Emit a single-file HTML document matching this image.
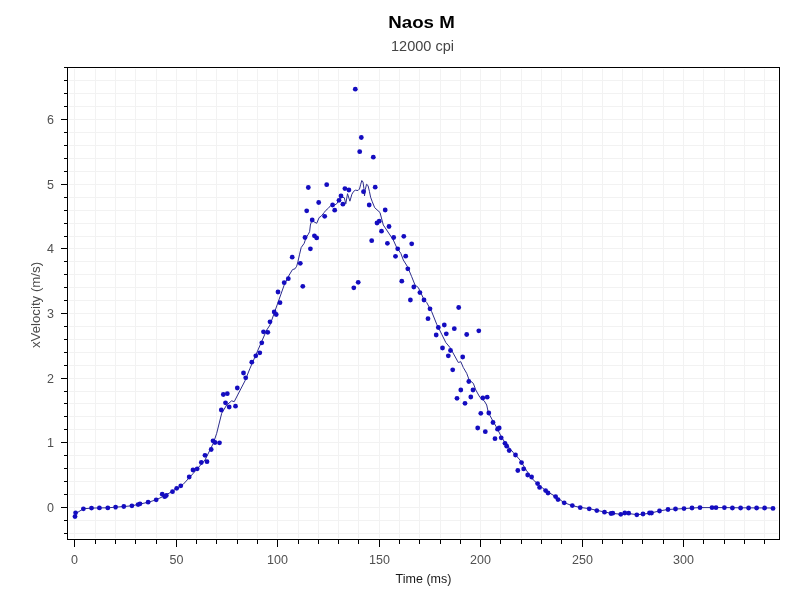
<!DOCTYPE html><html><head><meta charset="utf-8"><style>html,body{margin:0;padding:0;background:#fff;}body{width:800px;height:600px;overflow:hidden;position:relative;font-family:"Liberation Sans", sans-serif}</style></head><body>
<svg width="800" height="600" viewBox="0 0 800 600" style="position:absolute;left:0;top:0;will-change:transform">
<path d="M74.5 69V538M95.5 69V538M115.5 69V538M135.5 69V538M156.5 69V538M176.5 69V538M196.5 69V538M216.5 69V538M237.5 69V538M257.5 69V538M277.5 69V538M298.5 69V538M318.5 69V538M338.5 69V538M358.5 69V538M379.5 69V538M399.5 69V538M419.5 69V538M440.5 69V538M460.5 69V538M480.5 69V538M500.5 69V538M521.5 69V538M541.5 69V538M561.5 69V538M582.5 69V538M602.5 69V538M622.5 69V538M642.5 69V538M663.5 69V538M683.5 69V538M703.5 69V538M724.5 69V538M744.5 69V538M764.5 69V538M69 533.5H778M69 520.5H778M69 507.5H778M69 494.5H778M69 481.5H778M69 468.5H778M69 455.5H778M69 442.5H778M69 429.5H778M69 416.5H778M69 403.5H778M69 391.5H778M69 378.5H778M69 365.5H778M69 352.5H778M69 339.5H778M69 326.5H778M69 313.5H778M69 300.5H778M69 287.5H778M69 274.5H778M69 261.5H778M69 248.5H778M69 236.5H778M69 223.5H778M69 210.5H778M69 197.5H778M69 184.5H778M69 171.5H778M69 158.5H778M69 145.5H778M69 132.5H778M69 119.5H778M69 106.5H778M69 93.5H778M69 80.5H778" stroke="#f2f2f2" stroke-width="1" fill="none" shape-rendering="crispEdges"/>
<path d="M64 533.5H67M64 520.5H67M61 507.5H67M64 494.5H67M64 481.5H67M64 468.5H67M64 455.5H67M61 442.5H67M64 429.5H67M64 416.5H67M64 403.5H67M64 391.5H67M61 378.5H67M64 365.5H67M64 352.5H67M64 339.5H67M64 326.5H67M61 313.5H67M64 300.5H67M64 287.5H67M64 274.5H67M64 261.5H67M61 248.5H67M64 236.5H67M64 223.5H67M64 210.5H67M64 197.5H67M61 184.5H67M64 171.5H67M64 158.5H67M64 145.5H67M64 132.5H67M61 119.5H67M64 106.5H67M64 93.5H67M64 80.5H67M64 67.5H67M74.5 539V547M95.5 539V544M115.5 539V544M135.5 539V544M156.5 539V544M176.5 539V547M196.5 539V544M216.5 539V544M237.5 539V544M257.5 539V544M277.5 539V547M298.5 539V544M318.5 539V544M338.5 539V544M358.5 539V544M379.5 539V547M399.5 539V544M419.5 539V544M440.5 539V544M460.5 539V544M480.5 539V547M500.5 539V544M521.5 539V544M541.5 539V544M561.5 539V544M582.5 539V547M602.5 539V544M622.5 539V544M642.5 539V544M663.5 539V544M683.5 539V547M703.5 539V544M724.5 539V544M744.5 539V544M764.5 539V544" stroke="#000" stroke-width="1" fill="none" shape-rendering="crispEdges"/>
<rect x="67.5" y="67.5" width="712" height="472" stroke="#000" stroke-width="1" fill="none" shape-rendering="crispEdges"/>
<polyline points="75.0,514.0 83.4,508.8 91.5,508.1 99.4,507.9 107.8,507.8 115.6,507.2 123.8,506.5 131.9,505.8 140.0,504.0 148.1,502.3 156.2,499.8 164.0,496.0 171.7,491.7 183.3,484.2 193.3,473.3 205.0,460.0 213.3,443.3 216.7,433.3 221.7,413.3 226.7,405.0 231.7,400.8 234.2,401.7 245.0,380.8 250.0,368.3 266.7,330.0 270.0,325.0 284.2,285.0 289.2,275.0 292.5,269.6 295.0,268.8 296.7,266.2 297.9,261.7 299.6,254.2 301.2,247.5 304.2,243.3 305.8,238.3 308.3,234.2 309.6,231.7 310.4,225.0 311.7,220.8 313.8,221.7 316.7,223.3 319.2,217.5 321.2,216.2 324.2,212.5 325.8,210.4 328.3,208.3 330.8,205.4 334.2,205.4 336.7,203.8 339.2,200.0 341.4,196.6 344.3,197.8 345.8,203.9 347.5,193.7 349.9,201.2 351.9,194.2 353.7,191.3 355.4,190.2 358.0,190.5 359.5,189.0 360.7,184.3 361.8,180.5 363.0,182.0 363.9,188.4 364.5,196.0 365.3,189.6 366.5,184.3 368.0,185.5 369.4,191.3 370.6,197.2 372.3,201.8 374.7,207.7 380.0,212.5 383.3,225.0 390.0,235.0 393.3,240.0 396.7,247.5 400.8,253.3 403.3,260.0 407.5,266.7 411.7,276.7 415.0,285.0 418.3,287.5 424.2,300.0 426.7,302.5 431.7,311.7 436.7,324.2 441.7,334.2 445.8,342.5 450.0,347.5 454.2,355.0 458.3,362.5 460.8,361.7 463.3,367.5 466.7,373.3 469.2,380.0 473.3,383.3 475.8,390.0 480.0,397.5 484.2,400.8 486.7,405.0 488.3,412.5 493.3,421.7 496.7,427.5 501.7,437.5 506.7,445.0 513.3,452.5 520.0,460.0 526.7,470.8 533.3,480.0 537.6,483.6 545.6,490.6 555.6,496.6 564.0,502.6 572.0,505.6 580.0,507.4 589.0,508.6 597.0,510.4 604.6,512.0 612.0,513.4 621.0,514.2 628.6,513.6 637.0,514.6 643.0,514.2 651.0,513.0 659.5,510.9 668.0,509.5 675.8,509.0 684.0,508.6 692.0,508.0 700.0,507.6 716.0,507.6 724.4,507.6 740.0,507.8 773.0,508.0" stroke="#2c2c8c" stroke-width="1" fill="none" stroke-linejoin="round"/>
<g fill="#140cc0"><circle cx="75.0" cy="516.6" r="2.4"/><circle cx="75.6" cy="512.8" r="2.4"/><circle cx="83.4" cy="508.8" r="2.4"/><circle cx="91.5" cy="508.1" r="2.4"/><circle cx="99.4" cy="507.9" r="2.4"/><circle cx="107.8" cy="507.8" r="2.4"/><circle cx="115.6" cy="507.1" r="2.4"/><circle cx="123.8" cy="506.5" r="2.4"/><circle cx="131.9" cy="505.8" r="2.4"/><circle cx="138.1" cy="504.6" r="2.4"/><circle cx="140.0" cy="503.8" r="2.4"/><circle cx="148.1" cy="502.2" r="2.4"/><circle cx="156.2" cy="499.8" r="2.4"/><circle cx="162.2" cy="494.2" r="2.4"/><circle cx="164.7" cy="496.7" r="2.4"/><circle cx="166.3" cy="495.5" r="2.4"/><circle cx="172.5" cy="491.7" r="2.4"/><circle cx="176.7" cy="488.3" r="2.4"/><circle cx="180.8" cy="485.8" r="2.4"/><circle cx="189.2" cy="477.0" r="2.4"/><circle cx="193.0" cy="470.0" r="2.4"/><circle cx="197.2" cy="468.8" r="2.4"/><circle cx="201.3" cy="462.5" r="2.4"/><circle cx="205.0" cy="455.3" r="2.4"/><circle cx="207.0" cy="461.7" r="2.4"/><circle cx="211.2" cy="449.5" r="2.4"/><circle cx="213.0" cy="440.8" r="2.4"/><circle cx="215.0" cy="442.5" r="2.4"/><circle cx="219.5" cy="442.8" r="2.4"/><circle cx="221.3" cy="410.0" r="2.4"/><circle cx="225.5" cy="402.8" r="2.4"/><circle cx="229.2" cy="407.0" r="2.4"/><circle cx="235.5" cy="406.2" r="2.4"/><circle cx="223.3" cy="394.5" r="2.4"/><circle cx="227.3" cy="393.7" r="2.4"/><circle cx="237.3" cy="388.0" r="2.4"/><circle cx="243.5" cy="373.0" r="2.4"/><circle cx="245.7" cy="377.8" r="2.4"/><circle cx="251.8" cy="362.2" r="2.4"/><circle cx="255.8" cy="355.8" r="2.4"/><circle cx="259.8" cy="352.8" r="2.4"/><circle cx="261.8" cy="342.8" r="2.4"/><circle cx="263.5" cy="331.8" r="2.4"/><circle cx="267.8" cy="332.3" r="2.4"/><circle cx="270.0" cy="321.8" r="2.4"/><circle cx="274.2" cy="312.0" r="2.4"/><circle cx="276.2" cy="314.5" r="2.4"/><circle cx="280.0" cy="302.7" r="2.4"/><circle cx="278.0" cy="292.0" r="2.4"/><circle cx="284.2" cy="282.7" r="2.4"/><circle cx="288.3" cy="278.7" r="2.4"/><circle cx="302.8" cy="286.3" r="2.4"/><circle cx="292.2" cy="257.2" r="2.4"/><circle cx="300.3" cy="263.3" r="2.4"/><circle cx="310.4" cy="248.8" r="2.4"/><circle cx="305.0" cy="237.5" r="2.4"/><circle cx="314.4" cy="235.8" r="2.4"/><circle cx="316.7" cy="237.9" r="2.4"/><circle cx="306.7" cy="210.8" r="2.4"/><circle cx="312.2" cy="220.0" r="2.4"/><circle cx="308.3" cy="187.5" r="2.4"/><circle cx="318.7" cy="202.5" r="2.4"/><circle cx="324.7" cy="216.3" r="2.4"/><circle cx="326.7" cy="184.7" r="2.4"/><circle cx="332.6" cy="205.0" r="2.4"/><circle cx="334.7" cy="210.2" r="2.4"/><circle cx="339.0" cy="200.3" r="2.4"/><circle cx="341.0" cy="196.0" r="2.4"/><circle cx="342.9" cy="204.2" r="2.4"/><circle cx="344.9" cy="188.6" r="2.4"/><circle cx="348.9" cy="190.0" r="2.4"/><circle cx="355.3" cy="89.2" r="2.4"/><circle cx="361.3" cy="137.5" r="2.4"/><circle cx="359.7" cy="151.7" r="2.4"/><circle cx="373.3" cy="157.2" r="2.4"/><circle cx="363.5" cy="191.7" r="2.4"/><circle cx="375.2" cy="187.2" r="2.4"/><circle cx="369.2" cy="205.0" r="2.4"/><circle cx="385.2" cy="210.0" r="2.4"/><circle cx="377.0" cy="223.0" r="2.4"/><circle cx="379.2" cy="221.2" r="2.4"/><circle cx="381.5" cy="231.2" r="2.4"/><circle cx="389.0" cy="226.5" r="2.4"/><circle cx="371.7" cy="240.7" r="2.4"/><circle cx="387.4" cy="243.3" r="2.4"/><circle cx="353.8" cy="287.8" r="2.4"/><circle cx="358.2" cy="282.3" r="2.4"/><circle cx="393.7" cy="237.5" r="2.4"/><circle cx="403.8" cy="236.3" r="2.4"/><circle cx="411.7" cy="243.8" r="2.4"/><circle cx="397.7" cy="248.8" r="2.4"/><circle cx="395.5" cy="256.3" r="2.4"/><circle cx="405.7" cy="256.2" r="2.4"/><circle cx="407.8" cy="268.8" r="2.4"/><circle cx="401.8" cy="281.2" r="2.4"/><circle cx="413.8" cy="287.0" r="2.4"/><circle cx="419.9" cy="292.6" r="2.4"/><circle cx="410.4" cy="300.0" r="2.4"/><circle cx="424.0" cy="300.0" r="2.4"/><circle cx="430.0" cy="308.8" r="2.4"/><circle cx="458.7" cy="307.5" r="2.4"/><circle cx="428.0" cy="318.7" r="2.4"/><circle cx="438.3" cy="327.5" r="2.4"/><circle cx="444.3" cy="325.0" r="2.4"/><circle cx="454.3" cy="328.7" r="2.4"/><circle cx="478.8" cy="330.8" r="2.4"/><circle cx="436.2" cy="335.0" r="2.4"/><circle cx="446.3" cy="333.8" r="2.4"/><circle cx="466.7" cy="334.5" r="2.4"/><circle cx="442.5" cy="348.0" r="2.4"/><circle cx="450.5" cy="350.5" r="2.4"/><circle cx="448.3" cy="355.8" r="2.4"/><circle cx="462.7" cy="357.0" r="2.4"/><circle cx="452.7" cy="369.8" r="2.4"/><circle cx="468.8" cy="381.5" r="2.4"/><circle cx="460.8" cy="390.0" r="2.4"/><circle cx="473.0" cy="390.0" r="2.4"/><circle cx="457.0" cy="398.3" r="2.4"/><circle cx="470.8" cy="397.0" r="2.4"/><circle cx="465.0" cy="403.3" r="2.4"/><circle cx="482.8" cy="398.0" r="2.4"/><circle cx="487.2" cy="397.2" r="2.4"/><circle cx="480.8" cy="413.3" r="2.4"/><circle cx="488.8" cy="413.0" r="2.4"/><circle cx="493.0" cy="422.5" r="2.4"/><circle cx="477.7" cy="428.0" r="2.4"/><circle cx="485.3" cy="431.7" r="2.4"/><circle cx="497.5" cy="429.2" r="2.4"/><circle cx="499.2" cy="428.0" r="2.4"/><circle cx="495.0" cy="438.7" r="2.4"/><circle cx="501.2" cy="437.8" r="2.4"/><circle cx="505.0" cy="443.3" r="2.4"/><circle cx="506.7" cy="446.2" r="2.4"/><circle cx="509.2" cy="450.5" r="2.4"/><circle cx="515.5" cy="455.0" r="2.4"/><circle cx="521.5" cy="462.6" r="2.4"/><circle cx="523.7" cy="468.9" r="2.4"/><circle cx="517.8" cy="470.5" r="2.4"/><circle cx="527.7" cy="475.0" r="2.4"/><circle cx="531.6" cy="477.0" r="2.4"/><circle cx="537.6" cy="483.6" r="2.4"/><circle cx="539.6" cy="487.4" r="2.4"/><circle cx="545.6" cy="490.6" r="2.4"/><circle cx="548.0" cy="493.0" r="2.4"/><circle cx="555.6" cy="496.6" r="2.4"/><circle cx="558.0" cy="499.6" r="2.4"/><circle cx="564.2" cy="502.8" r="2.4"/><circle cx="572.3" cy="505.6" r="2.4"/><circle cx="580.2" cy="507.6" r="2.4"/><circle cx="589.2" cy="508.8" r="2.4"/><circle cx="596.8" cy="510.6" r="2.4"/><circle cx="604.5" cy="512.2" r="2.4"/><circle cx="611.0" cy="513.5" r="2.4"/><circle cx="612.8" cy="513.2" r="2.4"/><circle cx="620.8" cy="514.3" r="2.4"/><circle cx="624.8" cy="513.0" r="2.4"/><circle cx="628.7" cy="513.2" r="2.4"/><circle cx="636.8" cy="514.8" r="2.4"/><circle cx="643.0" cy="514.0" r="2.4"/><circle cx="649.5" cy="513.0" r="2.4"/><circle cx="651.5" cy="513.0" r="2.4"/><circle cx="659.5" cy="511.0" r="2.4"/><circle cx="668.0" cy="509.5" r="2.4"/><circle cx="675.5" cy="509.0" r="2.4"/><circle cx="684.0" cy="508.6" r="2.4"/><circle cx="692.0" cy="508.0" r="2.4"/><circle cx="700.0" cy="507.6" r="2.4"/><circle cx="712.0" cy="507.6" r="2.4"/><circle cx="716.0" cy="507.6" r="2.4"/><circle cx="724.4" cy="507.6" r="2.4"/><circle cx="732.4" cy="508.0" r="2.4"/><circle cx="740.6" cy="508.0" r="2.4"/><circle cx="748.6" cy="508.0" r="2.4"/><circle cx="756.6" cy="508.0" r="2.4"/><circle cx="764.6" cy="508.0" r="2.4"/><circle cx="773.0" cy="508.4" r="2.4"/></g>
<text x="54" y="512.0" text-anchor="end" font-size="12.5" fill="#505050" font-family='"Liberation Sans", sans-serif'>0</text><text x="54" y="447.0" text-anchor="end" font-size="12.5" fill="#505050" font-family='"Liberation Sans", sans-serif'>1</text><text x="54" y="383.0" text-anchor="end" font-size="12.5" fill="#505050" font-family='"Liberation Sans", sans-serif'>2</text><text x="54" y="318.0" text-anchor="end" font-size="12.5" fill="#505050" font-family='"Liberation Sans", sans-serif'>3</text><text x="54" y="253.0" text-anchor="end" font-size="12.5" fill="#505050" font-family='"Liberation Sans", sans-serif'>4</text><text x="54" y="189.0" text-anchor="end" font-size="12.5" fill="#505050" font-family='"Liberation Sans", sans-serif'>5</text><text x="54" y="124.0" text-anchor="end" font-size="12.5" fill="#505050" font-family='"Liberation Sans", sans-serif'>6</text><text x="74.5" y="564" text-anchor="middle" font-size="12.5" fill="#505050" font-family='"Liberation Sans", sans-serif'>0</text><text x="176.5" y="564" text-anchor="middle" font-size="12.5" fill="#505050" font-family='"Liberation Sans", sans-serif'>50</text><text x="277.5" y="564" text-anchor="middle" font-size="12.5" fill="#505050" font-family='"Liberation Sans", sans-serif'>100</text><text x="379.5" y="564" text-anchor="middle" font-size="12.5" fill="#505050" font-family='"Liberation Sans", sans-serif'>150</text><text x="480.5" y="564" text-anchor="middle" font-size="12.5" fill="#505050" font-family='"Liberation Sans", sans-serif'>200</text><text x="582.5" y="564" text-anchor="middle" font-size="12.5" fill="#505050" font-family='"Liberation Sans", sans-serif'>250</text><text x="683.5" y="564" text-anchor="middle" font-size="12.5" fill="#505050" font-family='"Liberation Sans", sans-serif'>300</text>
<text x="423.5" y="583" text-anchor="middle" font-size="12.5" fill="#1a1a1a" font-family='"Liberation Sans", sans-serif'>Time (ms)</text>
<text transform="translate(40,305) rotate(-90) scale(1.06,1)" x="0" y="0" text-anchor="middle" font-size="12.5" fill="#4a4a4a" font-family='"Liberation Sans", sans-serif'>xVelocity (m/s)</text>
<text transform="translate(421.5,28) scale(1.1,1)" x="0" y="0" text-anchor="middle" font-size="17" font-weight="bold" fill="#000" font-family='"Liberation Sans", sans-serif'>Naos M</text>
<text x="422.5" y="50.8" text-anchor="middle" font-size="14.5" fill="#444" font-family='"Liberation Sans", sans-serif'>12000 cpi</text>
</svg></body></html>
